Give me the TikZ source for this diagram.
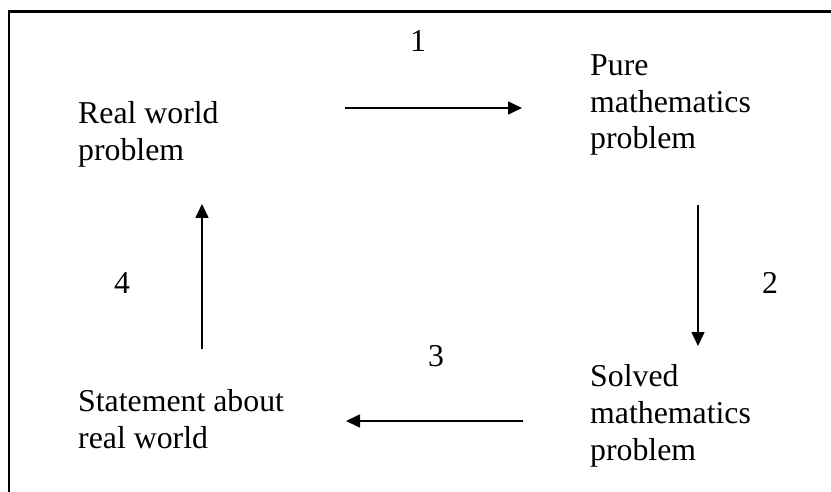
\documentclass[tikz,border=0pt]{standalone}
\usepackage{fontspec}
\setmainfont{Liberation Serif}
\usetikzlibrary{arrows.meta}
\begin{document}
\begin{tikzpicture}[x=1pt,y=-1pt,
  lbl/.style={anchor=base west,inner sep=0pt,align=left,font=\fontsize{31.8}{36.6}\selectfont},
  num/.style={inner sep=0pt,font=\fontsize{31.8}{36.6}\selectfont},
  conn/.style={line width=1.6pt,-{Triangle[length=14pt,width=13pt]}},
  frame/.style={line width=2.4pt}]
\useasboundingbox (0,0) rectangle (831,492);
\draw[frame] (9,493) -- (9,11.5) -- (832,11.5);
% base anchor of a multi-line node = baseline of its last line
\node[lbl] (real) at (78,160.5) {Real world\\problem};
\node[lbl] (pure) at (590,149) {Pure\\mathematics\\problem};
\node[lbl] (solved) at (590,460) {Solved\\mathematics\\problem};
\node[lbl] (stmt) at (78,448.5) {Statement about\\real world};
\coordinate (a1s) at (345,108);
\coordinate (a1e) at (522,108);
\coordinate (a2s) at (698,205);
\coordinate (a2e) at (698,346);
\coordinate (a3s) at (523,421);
\coordinate (a3e) at (346,421);
\coordinate (a4s) at (202,349);
\coordinate (a4e) at (202,204);
\draw[conn] (a1s) -- (a1e);
\draw[conn] (a2s) -- (a2e);
\draw[conn] (a3s) -- (a3e);
\draw[conn] (a4s) -- (a4e);
\node[num,anchor=base] (n1) at (418,52) {1};
\node[num,anchor=base] (n2) at (770,293) {2};
\node[num,anchor=base] (n3) at (436,366) {3};
\node[num,anchor=base] (n4) at (122,293) {4};
\end{tikzpicture}
\end{document}
